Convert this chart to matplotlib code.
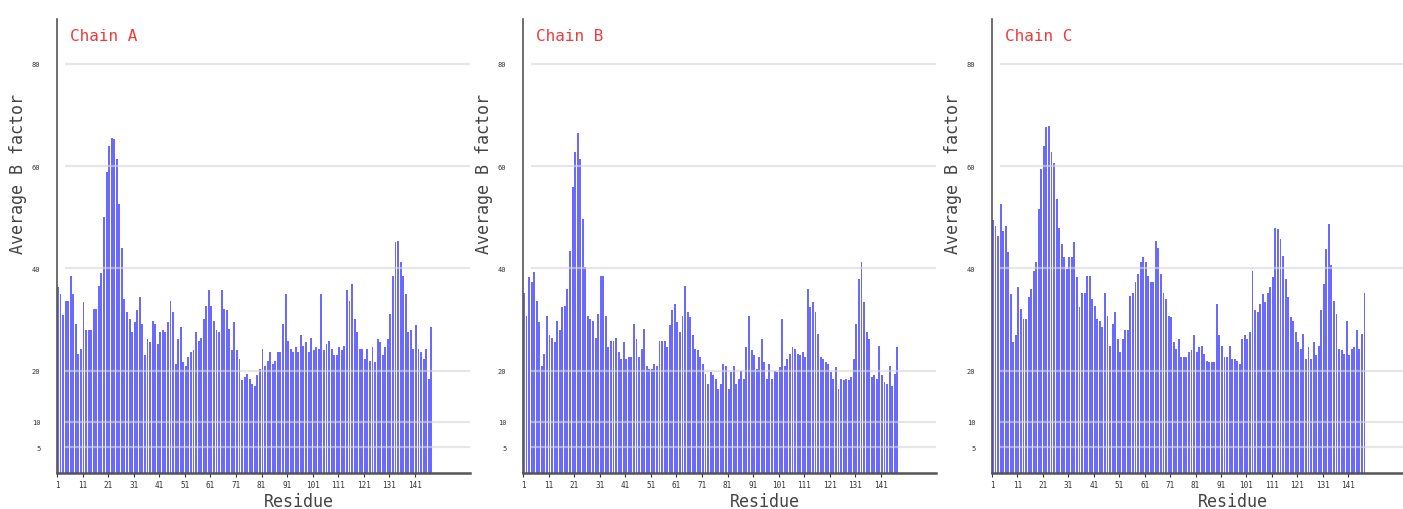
#!/usr/bin/python3

"""
Average B factor per residue for the three chains of the structure.
"""

import matplotlib

matplotlib.use("Agg")
import matplotlib.pyplot as plt
import numpy as np

CHAINS = ["Chain A", "Chain B", "Chain C"]

CHAIN_A = [
    36.3, 35.0, 31.0, 33.7, 33.7, 38.6, 35.0, 29.2, 23.3, 24.3,
    33.4, 27.9, 27.9, 27.9, 32.0, 32.0, 36.6, 39.2, 50.0, 58.8,
    64.0, 65.6, 65.3, 61.4, 52.6, 44.1, 34.0, 31.4, 30.1, 27.5,
    29.5, 31.8, 34.4, 29.2, 23.0, 26.2, 25.6, 29.8, 29.2, 25.3,
    27.5, 27.9, 27.5, 29.5, 33.7, 31.4, 21.3, 26.2, 28.5, 21.7,
    21.0, 22.6, 23.6, 24.0, 27.5, 25.9, 26.5, 30.1, 32.7, 35.7,
    32.7, 29.8, 27.9, 27.5, 35.7, 32.1, 31.8, 28.2, 24.0, 29.5,
    24.0, 22.3, 18.1, 18.7, 19.4, 18.4, 17.4, 17.1, 19.1, 20.4,
    24.3, 21.0, 22.0, 23.6, 21.3, 22.0, 23.6, 23.6, 29.2, 35.0,
    25.9, 24.3, 23.6, 24.6, 23.6, 26.9, 24.9, 25.6, 23.6, 26.5,
    24.0, 24.6, 24.3, 35.0, 24.0, 25.3, 25.9, 24.3, 23.0, 23.0,
    24.6, 24.0, 24.9, 35.7, 33.7, 37.0, 30.1, 27.5, 24.3, 24.3,
    22.3, 24.3, 22.0, 24.6, 21.7, 26.2, 25.6, 23.0, 24.6, 26.2,
    31.1, 38.6, 45.1, 45.4, 41.2, 38.6, 35.0, 27.5, 27.9, 24.3,
    28.9, 24.3, 23.6, 22.3, 24.3, 18.4, 28.5,
]

CHAIN_B = [
    35.3, 30.8, 38.3, 37.3, 39.3, 33.7, 29.5, 21.0, 23.3, 30.8,
    26.9, 26.5, 25.6, 29.8, 27.9, 32.4, 32.7, 36.0, 43.5, 55.9,
    62.7, 66.6, 61.4, 49.7, 40.2, 30.8, 30.1, 29.8, 26.5, 31.1,
    38.6, 38.6, 30.8, 24.6, 25.9, 25.9, 26.5, 23.6, 22.3, 25.6,
    22.3, 22.6, 22.6, 29.2, 26.2, 22.6, 24.3, 28.2, 21.0, 20.4,
    20.4, 21.3, 21.0, 25.9, 25.9, 25.9, 24.6, 28.9, 31.8, 33.1,
    29.5, 27.5, 30.8, 36.6, 31.4, 30.5, 26.9, 24.3, 24.0, 22.6,
    21.3, 19.4, 17.4, 19.7, 19.1, 18.4, 16.4, 17.4, 21.3, 21.0,
    16.4, 19.7, 21.0, 17.4, 18.4, 20.0, 18.4, 24.6, 30.8, 24.0,
    23.0, 20.4, 22.6, 26.2, 21.7, 18.4, 21.3, 18.4, 20.0, 19.7,
    20.7, 30.1, 21.0, 22.3, 23.3, 24.6, 24.3, 23.3, 23.0, 23.6,
    22.6, 36.0, 32.4, 33.4, 31.4, 27.2, 22.6, 22.3, 21.7, 21.3,
    19.7, 18.4, 20.7, 16.4, 18.4, 18.1, 18.4, 18.1, 18.7, 22.3,
    29.2, 38.0, 41.2, 33.4, 27.5, 26.2, 18.7, 19.1, 18.4, 24.9,
    19.1, 17.8, 17.4, 21.0, 17.1, 19.4, 24.6,
]

CHAIN_C = [
    49.4, 48.4, 46.4, 52.6, 47.4, 48.4, 43.2, 35.0, 25.6, 26.9,
    36.3, 32.1, 30.1, 30.1, 34.4, 36.0, 39.6, 41.2, 51.6, 59.4,
    64.0, 67.6, 67.9, 62.7, 60.7, 53.6, 48.0, 44.8, 42.2, 39.9,
    42.2, 42.2, 45.1, 38.3, 32.4, 35.3, 35.3, 38.6, 38.6, 34.0,
    32.7, 30.1, 29.8, 28.5, 35.3, 30.8, 24.9, 29.2, 31.4, 26.2,
    23.6, 26.2, 27.9, 27.9, 34.7, 35.3, 37.3, 38.9, 41.2, 42.2,
    41.2, 38.6, 37.3, 37.3, 45.4, 44.1, 38.9, 35.3, 34.0, 30.8,
    30.5, 25.6, 24.3, 26.2, 22.6, 22.6, 22.6, 23.6, 24.0, 26.9,
    23.6, 24.6, 24.9, 23.3, 22.0, 21.7, 21.7, 21.7, 33.1, 26.9,
    24.9, 22.6, 22.6, 24.9, 22.3, 22.3, 22.0, 21.3, 26.2, 26.9,
    26.2, 27.5, 39.6, 31.8, 31.4, 33.1, 35.0, 33.4, 35.3, 36.3,
    38.3, 48.0, 47.7, 45.8, 42.5, 38.0, 34.4, 30.5, 29.8, 27.5,
    25.6, 24.3, 27.2, 22.3, 24.6, 22.3, 25.6, 23.0, 24.9, 31.8,
    37.0, 43.8, 48.7, 40.6, 33.7, 31.1, 24.3, 24.0, 23.3, 29.8,
    23.0, 24.3, 24.6, 27.9, 24.3, 27.2, 35.3,
]

Y_TICKS = [5, 10, 20, 40, 60, 80]
X_TICKS = list(range(1, 142, 10))

FONT = "DejaVu Sans Mono"
BAR_COLOR = "#6a6aff"


def plot_chain(ax, name, values):
    """Draw one chain's per-residue bars on the given axes"""
    residues = np.arange(1, len(values) + 1)
    ax.bar(residues, values, width=0.75, align="edge", color=BAR_COLOR,
           linewidth=0, zorder=2)

    xmax = 162.5
    ax.hlines(Y_TICKS, 4, xmax, colors="#d6d6d6", linewidth=1.6,
              alpha=0.6, zorder=3)

    ax.set_xlim(1, xmax)
    ax.set_ylim(0, 88.8)

    for side in ("top", "right"):
        ax.spines[side].set_visible(False)
    ax.spines["left"].set_color("#555555")
    ax.spines["left"].set_linewidth(1.2)
    ax.spines["bottom"].set_color("#555555")
    ax.spines["bottom"].set_linewidth(1.8)
    ax.spines["bottom"].set_zorder(4)

    ax.set_yticks(Y_TICKS)
    ax.set_yticklabels([str(t) for t in Y_TICKS], fontsize=5, family=FONT,
                       color="#333333")
    ax.tick_params(axis="y", length=0, pad=12)
    ax.set_xticks(X_TICKS)
    ax.set_xticklabels([str(t) for t in X_TICKS], fontsize=5.5, family=FONT,
                       color="#333333")
    ax.tick_params(axis="x", length=3, width=0.8, color="#333333", pad=2)

    ax.set_ylabel("Average B factor", family=FONT, fontsize=12,
                  color="#444444")
    ax.yaxis.set_label_coords(-0.072, 0.66)
    ax.set_xlabel("Residue", family=FONT, fontsize=12, color="#444444")
    ax.xaxis.set_label_coords(0.585, -0.042)

    ax.text(0.031, 0.963, name, transform=ax.transAxes, family=FONT,
            fontsize=11.5, color="#ee3b3b", va="center", ha="left")


# pylint: disable=C0116
def main():
    fig = plt.figure(figsize=(14.03, 5.10), dpi=100)
    bottom = 1 - 474 / 510
    height = 454 / 510
    lefts = [57, 523, 992]
    widths = [413, 413, 411]
    for name, values, left, width in zip(CHAINS, [CHAIN_A, CHAIN_B, CHAIN_C],
                                         lefts, widths):
        ax = fig.add_axes([left / 1403, bottom, width / 1403, height])
        plot_chain(ax, name, values)

    fig.savefig("out.png", dpi=100, facecolor="white")


main()
